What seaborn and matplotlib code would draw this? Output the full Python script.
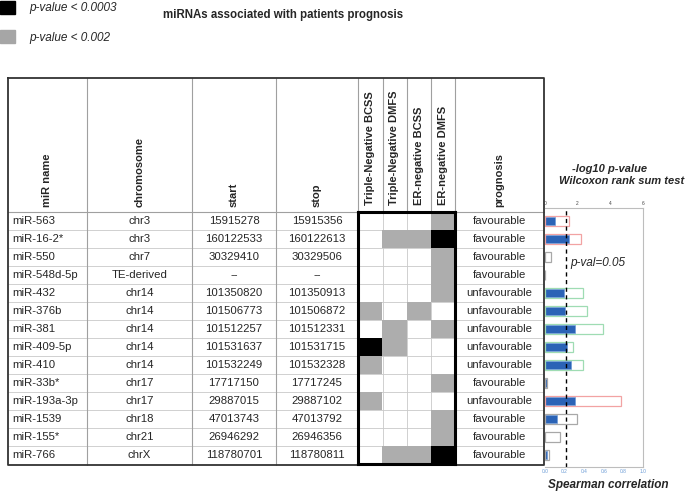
import numpy as np
import pandas as pd
import matplotlib
matplotlib.use("Agg")
import matplotlib.pyplot as plt
from matplotlib.colors import ListedColormap
from matplotlib.patches import Patch
import seaborn as sns

# ========== DATA ==========
mir_names = ["miR-563", "miR-16-2*", "miR-550", "miR-548d-5p", "miR-432", "miR-376b",
             "miR-381", "miR-409-5p", "miR-410", "miR-33b*", "miR-193a-3p", "miR-1539",
             "miR-155*", "miR-766"]
chromosomes = ["chr3", "chr3", "chr7", "TE-derived", "chr14", "chr14", "chr14", "chr14",
               "chr14", "chr17", "chr17", "chr18", "chr21", "chrX"]
starts = ["15915278", "160122533", "30329410", "--", "101350820", "101506773", "101512257",
          "101531637", "101532249", "17717150", "29887015", "47013743", "26946292", "118780701"]
stops = ["15915356", "160122613", "30329506", "--", "101350913", "101506872", "101512331",
         "101531715", "101532328", "17717245", "29887102", "47013792", "26946356", "118780811"]

# 0 = not significant, 1 = p < 0.002, 2 = p < 0.0003
tn_bcss = [0, 0, 0, 0, 0, 1, 0, 2, 1, 0, 1, 0, 0, 0]
tn_dmfs = [0, 1, 0, 0, 0, 0, 1, 1, 0, 0, 0, 0, 0, 1]
er_bcss = [0, 1, 0, 0, 0, 1, 0, 0, 0, 0, 0, 0, 0, 1]
er_dmfs = [1, 2, 1, 1, 1, 0, 1, 0, 0, 1, 0, 1, 1, 2]
surv_cols = ["Triple-Negative BCSS", "Triple-Negative DMFS", "ER-negative BCSS", "ER-negative DMFS"]

prognosis = ["favourable", "favourable", "favourable", "favourable", "unfavourable",
             "unfavourable", "unfavourable", "unfavourable", "unfavourable", "favourable",
             "unfavourable", "favourable", "favourable", "favourable"]

neg_log10_p = [1.47, 2.2, 0.37, 0.0, 2.33, 2.57, 3.55, 1.7, 2.35, 0.15, 4.65, 1.95, 0.92, 0.27]
spearman = [0.10, 0.245, 0.0, 0.0, 0.195, 0.20, 0.31, 0.225, 0.27, 0.02, 0.31, 0.12, 0.0, 0.02]
bar_edge = ["pink", "pink", "grey", "grey", "green", "green", "green", "green", "green",
            "grey", "pink", "grey", "grey", "grey"]

# ========== STYLE ==========
sns.set_style("white")
plt.rcParams["font.family"] = ["Liberation Sans", "DejaVu Sans"]

W, H = 685, 492
BLUE = "#2b63b6"
GREY_CELL = "#adadad"
edge_pal = {"pink": "#f2a3a3", "green": "#9fdcb3", "grey": "#a8a8a8"}


def px_rect(x0, y0, x1, y1):
    return [x0 / W, 1 - y1 / H, (x1 - x0) / W, (y1 - y0) / H]


fig = plt.figure(figsize=(W / 100, H / 100), dpi=100)

# ========== TABLE ==========
TAB_L, TAB_R, TAB_T = 8, 544, 78
BODY_T, ROW_H = 212, 18
n = len(mir_names)
BODY_B = BODY_T + n * ROW_H
col_edges = [8, 87, 192, 276, 358, 383, 407, 431, 455, 544]

ax_tab = fig.add_axes([0, 0, 1, 1])
ax_tab.set_xlim(0, W)
ax_tab.set_ylim(H, 0)
ax_tab.axis("off")

line_c = "#c9c9c9"
for i in range(1, n):
    y = BODY_T + i * ROW_H
    ax_tab.plot([TAB_L, TAB_R], [y, y], color=line_c, lw=0.6)
ax_tab.plot([TAB_L, TAB_R], [BODY_T, BODY_T], color="#a0a0a0", lw=0.8)
for x in col_edges[1:4]:
    ax_tab.plot([x, x], [TAB_T, BODY_B + 1], color="#a0a0a0", lw=0.8)
for x in col_edges[4:9]:
    ax_tab.plot([x, x], [TAB_T, BODY_T], color="#a0a0a0", lw=0.8)
for x in col_edges[5:8]:
    ax_tab.plot([x, x], [BODY_T, BODY_B], color=line_c, lw=0.6)
ax_tab.plot([TAB_L, TAB_R, TAB_R, TAB_L, TAB_L],
            [TAB_T, TAB_T, BODY_B + 1, BODY_B + 1, TAB_T], color="#333333", lw=1.3)

hdr_kw = dict(rotation=90, ha="center", va="bottom", fontsize=8, fontweight="bold")
ax_tab.text((col_edges[0] + col_edges[1]) / 2, BODY_T - 5, "miR name", **hdr_kw)
ax_tab.text((col_edges[1] + col_edges[2]) / 2, BODY_T - 5, "chromosome", **hdr_kw)
ax_tab.text((col_edges[2] + col_edges[3]) / 2, BODY_T - 5, "start", **hdr_kw)
ax_tab.text((col_edges[3] + col_edges[4]) / 2, BODY_T - 5, "stop", **hdr_kw)
ax_tab.text((col_edges[8] + col_edges[9]) / 2, BODY_T - 5, "prognosis", **hdr_kw)

for i in range(n):
    yc = BODY_T + (i + 0.5) * ROW_H
    ax_tab.text(col_edges[0] + 4, yc, mir_names[i], ha="left", va="center", fontsize=8.2)
    ax_tab.text((col_edges[1] + col_edges[2]) / 2, yc, chromosomes[i], ha="center", va="center", fontsize=8.2)
    ax_tab.text((col_edges[2] + col_edges[3]) / 2, yc, starts[i], ha="center", va="center", fontsize=8.2)
    ax_tab.text((col_edges[3] + col_edges[4]) / 2, yc, stops[i], ha="center", va="center", fontsize=8.2)
    ax_tab.text((col_edges[8] + col_edges[9]) / 2, yc, prognosis[i], ha="center", va="center", fontsize=8.2)

# ========== HEATMAP ==========
hm = pd.DataFrame({surv_cols[0]: tn_bcss, surv_cols[1]: tn_dmfs,
                   surv_cols[2]: er_bcss, surv_cols[3]: er_dmfs}, index=mir_names)
ax_hm = fig.add_axes(px_rect(col_edges[4], BODY_T, col_edges[8], BODY_B))
sns.heatmap(hm, mask=(hm == 0), cmap=ListedColormap(["white", GREY_CELL, "black"]),
            vmin=-0.5, vmax=2.5, cbar=False, yticklabels=False, ax=ax_hm)
ax_hm.patch.set_alpha(0)
ax_hm.xaxis.tick_top()
ax_hm.set_xticklabels(surv_cols, rotation=90, fontsize=8, fontweight="bold")
ax_hm.tick_params(axis="x", length=0, pad=5)
ax_hm.set_xlabel("")
ax_hm.set_ylabel("")
for s in ax_hm.spines.values():
    s.set_visible(True)
    s.set_linewidth(2.2)
    s.set_color("black")

# ========== BARS ==========
bars = pd.DataFrame({"mir": mir_names, "p": neg_log10_p, "rho": spearman, "edge": bar_edge})
ax_p = fig.add_axes(px_rect(545, 208, 643, 467))
ax_s = ax_p.twiny()

sns.barplot(data=bars, x="p", y="mir", hue="edge", palette=edge_pal, fill=False,
            dodge=False, width=0.6, linewidth=0.9, errorbar=None, legend=False,
            orient="h", ax=ax_p)
sns.barplot(data=bars, x="rho", y="mir", color=BLUE, saturation=1, width=0.42,
            edgecolor="#6c9ad8", linewidth=0.5, errorbar=None, orient="h", ax=ax_s)

ax_p.set_zorder(ax_s.get_zorder() + 1)
ax_p.patch.set_visible(False)
ax_s.patch.set_visible(False)

ax_p.axvline(-np.log10(0.05), color="black", ls=(0, (3, 2.5)), lw=1.0)
ax_p.text(1.55, 2.33, "p-val=0.05", style="italic", fontsize=8.5, va="center", ha="left")

ax_p.set_xlim(0, 6)
ax_s.set_xlim(0, 1)
ax_p.set_ylim(13.667, -0.722)
ax_p.set_yticks([])
ax_p.set_xlabel("")
ax_p.set_ylabel("")
ax_s.set_xlabel("")
ax_s.set_ylabel("")

ax_p.xaxis.tick_top()
ax_p.set_xticks([0, 2, 4, 6])
ax_p.tick_params(axis="x", length=0, pad=1.5, labelsize=3.5, labelcolor="#444444")
ax_s.xaxis.tick_bottom()
ax_s.set_xticks([0, 0.2, 0.4, 0.6, 0.8, 1.0])
ax_s.set_xticklabels(["0.0", "0.2", "0.4", "0.6", "0.8", "1.0"])
ax_s.tick_params(axis="x", length=0, pad=1.5, labelsize=3.5, labelcolor="#6a9bd6")

for name, s in ax_p.spines.items():
    s.set_visible(name != "left")
    s.set_color("#bdbdbd")
    s.set_linewidth(0.8)
for s in ax_s.spines.values():
    s.set_visible(False)

fig.text(610 / W, 1 - 169 / H, "-log10 p-value", ha="center", va="center",
         fontsize=8, fontweight="bold", style="italic")
fig.text(622 / W, 1 - 181 / H, "Wilcoxon rank sum test", ha="center", va="center",
         fontsize=8, fontweight="bold", style="italic")
fig.text(608 / W, 1 - 485 / H, "Spearman correlation", ha="center", va="center",
         fontsize=8.5, fontweight="bold", style="italic")

# ========== LEGEND / TITLE ==========
fig.legend(handles=[Patch(facecolor="black", edgecolor="black"),
                    Patch(facecolor="#a6a6a6", edgecolor="#a6a6a6")],
           labels=["p-value < 0.0003", "p-value < 0.002"],
           loc="upper left", bbox_to_anchor=(0, 1 - 1 / H), frameon=False,
           prop={"style": "italic", "size": 8.5}, handlelength=1.27, handleheight=1.27,
           labelspacing=1.35, handletextpad=1.25, borderpad=0, borderaxespad=0)
fig.text(163 / W, 1 - 15 / H, "miRNAs associated with patients prognosis",
         ha="left", va="center", fontsize=8.3, fontweight="bold")

fig.savefig("out.png", dpi=100)
